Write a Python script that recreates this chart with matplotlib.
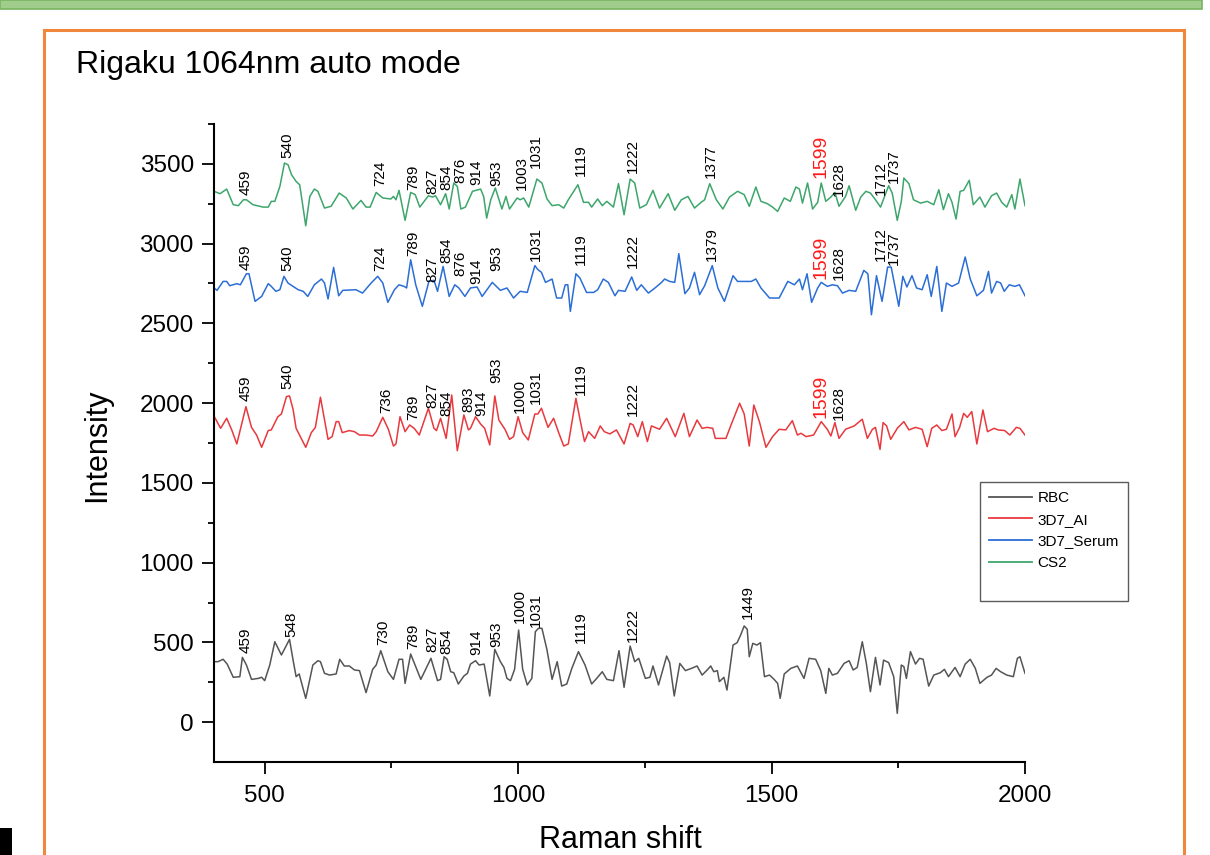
import matplotlib
matplotlib.use("Agg")
from matplotlib import pyplot as plt
from matplotlib.lines import Line2D
from matplotlib.patches import Rectangle
from matplotlib.ticker import MultipleLocator, FixedLocator

plt.rcParams['font.family'] = ['Liberation Sans', 'DejaVu Sans']

# ---- spectra (Raman shift, intensity) ----
rbc_x = [400, 408, 418, 426, 438, 451, 456, 464, 474, 487, 494, 500, 510, 520, 533, 549, 556, 562, 568, 581,
         595, 605, 610, 618, 628, 641, 648, 657, 667, 677, 687, 700, 713, 720, 729, 743, 754, 765, 772, 777,
         788, 808, 828, 841, 847, 854, 860, 867, 873, 882, 893, 900, 906, 916, 923, 933, 944, 954, 965, 972,
         978, 985, 993, 1001, 1009, 1018, 1027, 1034, 1040, 1047, 1057, 1067, 1077, 1086, 1096, 1106, 1119, 1132, 1145, 1155,
         1166, 1175, 1188, 1199, 1209, 1221, 1230, 1238, 1251, 1260, 1266, 1277, 1293, 1299, 1308, 1319, 1330, 1342, 1353, 1363,
         1373, 1380, 1386, 1393, 1397, 1406, 1412, 1424, 1432, 1439, 1446, 1452, 1456, 1463, 1471, 1478, 1486, 1496, 1505, 1512,
         1517, 1525, 1538, 1551, 1564, 1574, 1587, 1597, 1607, 1613, 1620, 1630, 1643, 1653, 1661, 1669, 1679, 1687, 1695, 1705,
         1714, 1721, 1731, 1741, 1748, 1756, 1761, 1766, 1774, 1784, 1792, 1799, 1810, 1820, 1833, 1841, 1849, 1862, 1872, 1882,
         1892, 1902, 1911, 1925, 1934, 1943, 1952, 1964, 1977, 1985, 1990, 2000]
rbc_y = [379, 379, 394, 364, 281, 285, 406, 358, 268, 274, 281, 260, 358, 504, 421, 519, 389, 285, 302, 149,
         358, 385, 379, 306, 295, 302, 394, 352, 352, 327, 323, 185, 331, 358, 448, 316, 268, 394, 394, 243,
         427, 268, 400, 260, 268, 410, 394, 316, 310, 239, 289, 306, 364, 385, 358, 364, 164, 456, 379, 343,
         274, 260, 331, 577, 331, 233, 274, 567, 588, 588, 452, 268, 379, 226, 239, 337, 442, 358, 239, 274,
         316, 268, 260, 448, 218, 477, 379, 400, 274, 281, 352, 233, 414, 373, 164, 368, 323, 337, 352, 295,
         327, 352, 316, 323, 254, 281, 201, 483, 498, 546, 603, 582, 410, 494, 483, 498, 285, 295, 268, 243,
         149, 302, 337, 352, 274, 400, 394, 323, 180, 337, 295, 306, 368, 385, 327, 343, 504, 368, 191, 406,
         233, 389, 373, 285, 55, 358, 348, 274, 442, 364, 400, 394, 226, 295, 310, 331, 285, 343, 285, 364,
         394, 337, 243, 281, 295, 337, 316, 295, 285, 400, 410, 306]

ai_x = [400, 413, 425, 435, 445, 463, 474, 484, 494, 507, 513, 526, 533, 543, 549, 556, 562, 581, 592, 600,
        610, 625, 633, 641, 646, 653, 667, 677, 687, 700, 713, 720, 733, 744, 754, 759, 767, 777, 786, 795,
        805, 823, 834, 839, 847, 858, 869, 880, 893, 902, 906, 916, 926, 934, 944, 954, 962, 974, 983, 991,
        1000, 1009, 1020, 1033, 1039, 1046, 1059, 1070, 1080, 1090, 1099, 1114, 1122, 1131, 1139, 1151, 1162, 1170, 1181, 1194,
        1209, 1221, 1227, 1236, 1245, 1255, 1263, 1279, 1293, 1310, 1327, 1338, 1353, 1363, 1373, 1384, 1389, 1410, 1420, 1437,
        1446, 1456, 1465, 1476, 1489, 1502, 1515, 1528, 1541, 1551, 1558, 1568, 1583, 1598, 1610, 1617, 1625, 1633, 1646, 1663,
        1679, 1689, 1699, 1705, 1714, 1720, 1727, 1735, 1748, 1761, 1771, 1784, 1797, 1807, 1816, 1826, 1836, 1845, 1856, 1862,
        1871, 1879, 1886, 1895, 1905, 1917, 1926, 1939, 1947, 1960, 1970, 1983, 1990, 2000]
ai_y = [1919, 1842, 1905, 1832, 1744, 1978, 1848, 1800, 1723, 1828, 1832, 1915, 1932, 2041, 2045, 1961, 1842, 1723, 1815, 1848,
        2037, 1773, 1790, 1884, 1884, 1815, 1828, 1821, 1800, 1800, 1794, 1821, 1911, 1836, 1731, 1744, 1915, 1821, 1863, 1842,
        1800, 1968, 1842, 1828, 1905, 1779, 2051, 1702, 1926, 1832, 1842, 1915, 1869, 1842, 1738, 2045, 1894, 1836, 1773, 1790,
        1915, 1815, 1769, 1932, 1932, 1968, 1848, 1905, 1815, 1731, 1744, 2030, 1899, 1759, 1821, 1779, 1857, 1821, 1807, 1832,
        1744, 1873, 1863, 1790, 1884, 1759, 1857, 1836, 1905, 1790, 1936, 1790, 1894, 1842, 1848, 1842, 1779, 1779, 1863, 1999,
        1932, 1731, 1988, 1884, 1723, 1790, 1836, 1832, 1890, 1800, 1811, 1790, 1800, 1884, 1836, 1794, 1878, 1779, 1836, 1857,
        1899, 1779, 1836, 1848, 1710, 1878, 1857, 1773, 1842, 1884, 1832, 1848, 1836, 1727, 1842, 1863, 1828, 1836, 1932, 1790,
        1848, 1936, 1911, 1947, 1744, 1957, 1821, 1842, 1832, 1828, 1800, 1848, 1842, 1800]

serum_x = [400, 406, 418, 425, 431, 445, 452, 464, 469, 481, 494, 507, 513, 522, 530, 538, 546, 556, 566, 576,
           585, 598, 612, 618, 625, 636, 646, 654, 680, 693, 710, 723, 733, 743, 756, 765, 775, 780, 788, 798,
           811, 824, 834, 841, 852, 864, 875, 883, 895, 906, 919, 929, 949, 965, 978, 991, 1004, 1018, 1033, 1039,
           1046, 1054, 1067, 1076, 1086, 1093, 1098, 1103, 1114, 1122, 1135, 1149, 1157, 1168, 1178, 1191, 1198, 1211, 1224, 1234,
           1243, 1257, 1270, 1283, 1289, 1299, 1309, 1317, 1329, 1338, 1348, 1358, 1368, 1383, 1394, 1407, 1424, 1433, 1446, 1460,
           1469, 1479, 1496, 1515, 1532, 1545, 1555, 1561, 1570, 1579, 1591, 1598, 1610, 1620, 1630, 1640, 1653, 1666, 1682, 1690,
           1697, 1707, 1718, 1729, 1736, 1751, 1759, 1767, 1777, 1786, 1797, 1807, 1815, 1826, 1836, 1845, 1856, 1869, 1882, 1892,
           1905, 1918, 1928, 1934, 1944, 1952, 1959, 1969, 1980, 1989, 2000]
serum_y = [2722, 2707, 2763, 2763, 2736, 2749, 2742, 2811, 2811, 2638, 2669, 2749, 2732, 2701, 2711, 2795, 2753, 2732, 2711, 2701,
           2669, 2742, 2778, 2753, 2653, 2851, 2673, 2707, 2711, 2690, 2753, 2795, 2753, 2632, 2711, 2742, 2732, 2722, 2899, 2742,
           2607, 2763, 2770, 2701, 2857, 2669, 2742, 2722, 2669, 2722, 2728, 2669, 2757, 2707, 2722, 2659, 2701, 2694, 2862, 2837,
           2820, 2757, 2778, 2659, 2659, 2742, 2742, 2575, 2811, 2784, 2694, 2694, 2711, 2778, 2757, 2673, 2707, 2701, 2791, 2707,
           2742, 2690, 2722, 2757, 2778, 2763, 2757, 2937, 2686, 2722, 2820, 2680, 2736, 2862, 2722, 2638, 2799, 2763, 2763, 2763,
           2778, 2722, 2659, 2659, 2763, 2742, 2778, 2711, 2811, 2632, 2722, 2757, 2732, 2742, 2736, 2690, 2707, 2701, 2832, 2811,
           2554, 2799, 2638, 2853, 2853, 2607, 2795, 2728, 2799, 2722, 2711, 2805, 2669, 2857, 2575, 2753, 2732, 2753, 2916, 2778,
           2673, 2707, 2826, 2690, 2763, 2753, 2701, 2742, 2732, 2742, 2673]

cs2_x = [400, 412, 425, 438, 448, 458, 464, 477, 497, 507, 513, 520, 530, 539, 546, 553, 562, 569, 572, 581,
         589, 598, 605, 618, 631, 647, 661, 674, 690, 700, 708, 720, 733, 749, 754, 759, 765, 777, 788, 797,
         806, 823, 831, 837, 847, 857, 864, 873, 880, 887, 896, 910, 926, 932, 938, 946, 955, 968, 976, 983,
         998, 1004, 1011, 1021, 1037, 1047, 1057, 1067, 1080, 1090, 1099, 1118, 1129, 1139, 1145, 1157, 1166, 1175, 1188, 1198,
         1209, 1221, 1230, 1240, 1253, 1266, 1279, 1296, 1309, 1322, 1335, 1348, 1361, 1368, 1378, 1391, 1404, 1417, 1433, 1446,
         1456, 1469, 1479, 1492, 1502, 1512, 1525, 1537, 1548, 1555, 1561, 1571, 1581, 1591, 1598, 1607, 1617, 1625, 1633, 1646,
         1653, 1666, 1676, 1686, 1695, 1705, 1715, 1731, 1738, 1748, 1756, 1761, 1771, 1780, 1794, 1807, 1820, 1830, 1839, 1849,
         1856, 1864, 1872, 1879, 1890, 1898, 1911, 1921, 1934, 1944, 1954, 1964, 1974, 1980, 1990, 2000]
cs2_y = [3328, 3313, 3342, 3244, 3238, 3275, 3275, 3244, 3229, 3229, 3265, 3265, 3359, 3505, 3495, 3432, 3390, 3369, 3307, 3112,
         3296, 3342, 3328, 3223, 3234, 3317, 3286, 3217, 3271, 3229, 3229, 3321, 3286, 3280, 3296, 3275, 3334, 3146, 3321, 3307,
         3229, 3300, 3292, 3300, 3244, 3313, 3217, 3380, 3359, 3217, 3229, 3328, 3342, 3296, 3160, 3275, 3349, 3217, 3296, 3217,
         3286, 3275, 3286, 3229, 3405, 3380, 3280, 3238, 3244, 3223, 3275, 3369, 3259, 3259, 3229, 3280, 3238, 3265, 3229, 3376,
         3181, 3405, 3380, 3223, 3244, 3334, 3223, 3313, 3209, 3275, 3296, 3223, 3259, 3275, 3376, 3275, 3217, 3292, 3328, 3307,
         3234, 3355, 3265, 3250, 3229, 3202, 3286, 3265, 3355, 3342, 3254, 3380, 3217, 3259, 3380, 3265, 3292, 3321, 3234, 3296,
         3363, 3209, 3292, 3328, 3317, 3275, 3229, 3363, 3317, 3146, 3265, 3411, 3376, 3275, 3254, 3265, 3244, 3338, 3213, 3313,
         3259, 3154, 3328, 3334, 3397, 3244, 3292, 3229, 3300, 3317, 3259, 3229, 3307, 3217, 3405, 3238]

# ---- peak labels (text, height of label foot) ----
rbc_peaks = ['459', '548', '730', '789', '827', '854', '914', '953', '1000', '1031', '1119', '1222', '1449']
rbc_peak_y = [435, 532, 483, 456, 442, 427, 421, 473, 619, 598, 494, 504, 644]
ai_peaks = ['459', '540', '736', '789', '827', '854', '893', '914', '953', '1000', '1031', '1119', '1222', '1599', '1628']
ai_peak_y = [2016, 2087, 1940, 1894, 1968, 1919, 1947, 1919, 2124, 1940, 1995, 2051, 1919, 1905, 1894]
serum_peaks = ['459', '540', '724', '789', '827', '854', '876', '914', '953', '1031', '1119', '1222', '1379',
               '1599', '1628', '1712', '1737']
serum_peak_y = [2836, 2826, 2826, 2920, 2757, 2878, 2795, 2749, 2826, 2889, 2868, 2847, 2889, 2778, 2774, 2889, 2868]
cs2_peaks = ['459', '540', '724', '789', '827', '854', '876', '914', '953', '1003', '1031', '1119', '1222', '1377',
             '1599', '1628', '1712', '1737']
cs2_peak_y = [3307, 3537, 3359, 3338, 3313, 3334, 3380, 3369, 3363, 3338, 3474, 3422, 3443, 3411, 3411, 3300, 3307, 3380]

names = ['RBC', '3D7_AI', '3D7_Serum', 'CS2']
colors = ['#555555', '#E8393E', '#2B6ED6', '#3DA66C']

# a few crowded labels sit a little further right in the original
nudge = {('3D7_AI', '893'): 5, ('3D7_AI', '914'): 10, ('CS2', '876'): 7, ('3D7_Serum', '876'): 6}

fig = plt.figure(figsize=(12.1, 8.55), dpi=100)

# slide decorations: green band, orange frame, dark block
fig.patches.append(Rectangle((0, 1 - 9 / 855), 1202 / 1210, 9 / 855, transform=fig.transFigure,
                             facecolor='#A0CD8B', edgecolor='#79B45F', lw=1.2))
fig.patches.append(Rectangle((44 / 1210, -0.01), 1140 / 1210, 1.01 - 30 / 855, transform=fig.transFigure,
                             facecolor='none', edgecolor='#F0873A', lw=2.2))
fig.patches.append(Rectangle((0, 0), 12 / 1210, 27 / 855, transform=fig.transFigure,
                             facecolor='black', edgecolor='none'))

ax = fig.add_axes([214 / 1210, 1 - 762 / 855, 811 / 1210, 638 / 855])
ax.patch.set_alpha(0)

series = [(rbc_x, rbc_y, rbc_peaks, rbc_peak_y), (ai_x, ai_y, ai_peaks, ai_peak_y),
          (serum_x, serum_y, serum_peaks, serum_peak_y), (cs2_x, cs2_y, cs2_peaks, cs2_peak_y)]
for (xs, ys, pk, pky), name, c in zip(series, names, colors):
    ax.plot(xs, ys, color=c, lw=1.1, label=name)
    for p, py in zip(pk, pky):
        if p == '1599':
            ax.text(float(p) - 1, py, p, rotation=90, ha='center', va='bottom', fontsize=14, color='#FF1A1A')
        else:
            dx = 4 + nudge.get((name, p), 0)
            ax.text(float(p) + dx, py, p, rotation=90, ha='center', va='bottom', fontsize=11, color='black')

ax.set_xlim(400, 2000)
ax.set_ylim(-250, 3750)
ax.xaxis.set_major_locator(FixedLocator([500, 1000, 1500, 2000]))
ax.xaxis.set_minor_locator(FixedLocator([750, 1250, 1750]))
ax.yaxis.set_major_locator(MultipleLocator(500))
ax.yaxis.set_minor_locator(FixedLocator([250 + 500 * i for i in range(8)]))
for s in ['top', 'right']:
    ax.spines[s].set_visible(False)
for s in ['left', 'bottom']:
    ax.spines[s].set_linewidth(1.5)
ax.tick_params(which='major', direction='out', length=8.5, width=1.3, labelsize=17.5, pad=6)
ax.tick_params(which='minor', direction='out', length=4.5, width=1.3)
ax.tick_params(axis='x', which='major', pad=8)

fig.text(97 / 1210, 1 - 445 / 855, 'Intensity', rotation=90, ha='center', va='center', fontsize=22)
fig.text(620 / 1210, 1 - 840 / 855, 'Raman shift', ha='center', va='center', fontsize=22)
fig.text(76 / 1210, 1 - 73 / 855, 'Rigaku 1064nm auto mode', ha='left', va='baseline', fontsize=23)

handles = [Line2D([], [], color=c, lw=1.3) for c in colors] + [Line2D([], [], color='none')]
leg = ax.legend(handles, names + [''], loc='upper left', bbox_to_anchor=(0.9445, 0.439),
                fontsize=11, frameon=True, fancybox=False, borderaxespad=0, borderpad=0.6,
                handlelength=2.8, handletextpad=0.35, labelspacing=0.5)
leg.get_frame().set_edgecolor('#333333')
leg.get_frame().set_linewidth(1.0)

fig.savefig('out.png', dpi=100)
